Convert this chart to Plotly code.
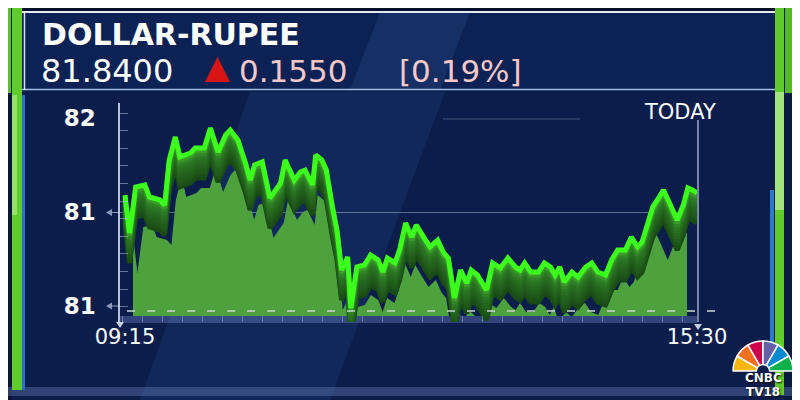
import pandas as pd
import plotly.graph_objects as go

# ---------------- data ----------------
DAY = "2022-10-07"
times = ["09:15","09:18","09:22","09:28","09:31","09:38","09:41","09:44","09:48","09:51",
         "09:58","10:01","10:07","10:11","10:16","10:21","10:24","10:29","10:34","10:37",
         "10:40","10:45","10:50","10:57","11:00","11:06","11:10","11:13","11:18","11:20",
         "11:24","11:27","11:31","11:34","11:37","11:41","11:43","11:47","11:52","11:56",
         "12:01","12:04","12:07","12:12","12:15","12:19","12:23","12:26","12:30","12:35",
         "12:40","12:44","12:47","12:51","12:55","12:59","13:02","13:06","13:12","13:16",
         "13:21","13:26","13:31","13:34","13:37","13:41","13:46","13:50","13:54","13:57",
         "14:00","14:03","14:08","14:12","14:17","14:21","14:25","14:30","14:34","14:38",
         "14:43","14:47","14:51","14:54","14:57","15:01","15:04","15:08","15:12","15:17",
         "15:21","15:24","15:27","15:30"]
values = [81.590,81.388,81.633,81.644,81.580,81.564,81.537,81.777,81.899,81.793,
          81.814,81.840,81.840,81.947,81.819,81.910,81.936,81.883,81.761,81.670,
          81.750,81.766,81.574,81.654,81.777,81.670,81.713,81.723,81.644,81.803,
          81.777,81.723,81.527,81.404,81.191,81.261,80.989,81.207,81.218,81.271,
          81.245,81.181,81.255,81.229,81.298,81.441,81.367,81.431,81.378,81.314,
          81.351,81.282,81.255,81.043,81.191,81.122,81.191,81.165,81.085,81.229,
          81.202,81.255,81.207,81.191,81.229,81.181,81.181,81.229,81.207,81.165,
          81.207,81.128,81.181,81.154,81.207,81.229,81.181,81.165,81.245,81.298,
          81.298,81.367,81.314,81.340,81.420,81.527,81.564,81.617,81.548,81.457,
          81.537,81.628,81.617,81.601]
y_tick_values = [81.0, 81.5, 82.0]
y_tick_labels = ["81", "81", "82"]
x_tick_labels = ["09:15", "15:30"]
title_text = "DOLLAR-RUPEE"
last_price = "81.8400"
change_text = "0.1550"
pct_text = "[0.19%]"
today_text = "TODAY"
logo_lines = ["CNBC", "TV18"]
peacock_colors = ["#fcb711", "#f37021", "#cc004c", "#6460aa", "#0089d0", "#0db14b"]

# ---------------- helpers (layout geometry) ----------------
W, H = 800, 400
OFF = 8  # page body margin compensation
def fx(p): return (p - OFF) / W
def fy(p): return 1 - (p - OFF) / H

V_TOP, V_BOT, P_TOP, P_BOT = 82.0, 81.0, 118, 306
vpp = (V_TOP - V_BOT) / (P_BOT - P_TOP)
def yrange(top_px, bot_px, shift=0):
    return [V_TOP - (bot_px - P_TOP - shift) * vpp, V_TOP - (top_px - P_TOP - shift) * vpp]

x = [f"{DAY} {t}" for t in times]
t0, t1 = pd.Timestamp(x[0]), pd.Timestamp(x[-1])
ms_per_px = (t1 - t0).total_seconds() * 1000 / (697 - 125)
def tstr(ts): return ts.strftime("%Y-%m-%d %H:%M:%S.%f")[:-3]
x_range = [x[0], x[-1]]
x_range_axis = [tstr(t0 - pd.Timedelta(milliseconds=5 * ms_per_px)), x[-1]]
minor_x0 = tstr(t0 + pd.Timedelta(milliseconds=17 * ms_per_px))

FONT = "DejaVu Sans"
fig = go.Figure()

# area fill (perspective-shifted copy of the series)
fig.add_trace(go.Scatter(
    x=x, y=values, xaxis="x", yaxis="y", mode="lines", line=dict(width=0, color="#3b8a30"),
    fill="tozeroy", fillgradient=dict(type="vertical",
                                      colorscale=[[0, "#2e7429"], [1, "#4ea23e"]]),
    hoverinfo="skip", showlegend=False))

# base subplot carrying the visible axes (transparent copy of the series)
fig.add_trace(go.Scatter(x=x, y=values, xaxis="x2", yaxis="y2", mode="lines",
                         line=dict(width=1, color="rgba(0,0,0,0)"), hoverinfo="skip", showlegend=False))

# 3D extrusion walls
shifts = [30, 27, 24, 21, 18, 15, 12, 9, 6, 3]
wall_colors = ["#194a15", "#1b4f17", "#1f5719", "#215c1b", "#23621d", "#25681f", "#286f21",
               "#2b7723", "#308326", "#3a9a2a"]
for i, (s, c) in enumerate(zip(shifts, wall_colors)):
    fig.add_trace(go.Scatter(x=x, y=values, xaxis="x2", yaxis=f"y{i + 3}", mode="lines",
                             line=dict(width=5, color=c), hoverinfo="skip", showlegend=False))

# bright top line
n_last = len(shifts) + 3
fig.add_trace(go.Scatter(x=x, y=values, xaxis="x2", yaxis=f"y{n_last}", mode="lines",
                         line=dict(width=5, color="#3cff1c"), hoverinfo="skip", showlegend=False))

# CNBC peacock
fig.add_trace(go.Pie(values=[1] * 6 + [6], marker=dict(colors=peacock_colors + ["rgba(0,0,0,0)"],
                     line=dict(color="white", width=[1.5] * 6 + [0])),
                     sort=False, direction="clockwise", rotation=-90, hole=0.22,
                     textinfo="none", hoverinfo="skip", showlegend=False,
                     domain=dict(x=[fx(733), fx(793)], y=[fy(401), fy(341)])))

layout_axes = dict(
    xaxis=dict(domain=[fx(133), fx(687)], range=x_range, type="date", anchor="y", visible=False),
    yaxis=dict(domain=[fy(316), fy(100)], range=yrange(100, 316, 40), anchor="x", visible=False),
    xaxis2=dict(domain=[fx(120), fx(697)], range=x_range_axis, type="date", anchor="y2",
                showgrid=False, zeroline=False, showline=False, ticks="",
                tickmode="array", tickvals=x_range, ticktext=x_tick_labels,
                tickfont=dict(family=FONT, size=21, color="white"),
                minor=dict(ticks="inside", ticklen=6, tickcolor="rgba(170,190,230,0.45)",
                           tick0=minor_x0, dtick=20 * ms_per_px, showgrid=False)),
    yaxis2=dict(domain=[fy(322), fy(103)], range=yrange(103, 322), anchor="x2",
                showgrid=False, zeroline=False, showline=True, linecolor="rgba(215,225,245,0.85)",
                linewidth=1.5, ticks="", tickmode="array", tickvals=y_tick_values,
                ticktext=y_tick_labels, ticklabelstandoff=18,
                tickfont=dict(family=FONT, size=23, color="white", weight="bold"),
                minor=dict(ticks="inside", ticklen=8, tickcolor="rgba(190,205,235,0.5)",
                           tick0=V_TOP - (113 - P_TOP) * vpp, dtick=17.6 * vpp, showgrid=False)),
)
for i, s in enumerate(shifts + [0]):
    layout_axes[f"yaxis{i + 3}"] = dict(domain=[fy(322), fy(103)], range=yrange(103, 322, s),
                                        overlaying="y2", anchor="x2", visible=False)

shapes = []
def rect(x0, y0, x1, y1, color, layer="below"):
    shapes.append(dict(type="rect", xref="paper", yref="paper", x0=fx(x0), x1=fx(x1),
                       y0=fy(y1), y1=fy(y0), fillcolor=color, line=dict(width=0), layer=layer))
def hline(x0, x1, y, color, width=1, dash="solid", layer="below"):
    shapes.append(dict(type="line", xref="paper", yref="paper", x0=fx(x0), x1=fx(x1),
                       y0=fy(y), y1=fy(y), line=dict(color=color, width=width, dash=dash), layer=layer))
def vline(xp, y0, y1, color, width=1, layer="below"):
    shapes.append(dict(type="line", xref="paper", yref="paper", x0=fx(xp), x1=fx(xp),
                       y0=fy(y0), y1=fy(y1), line=dict(color=color, width=width), layer=layer))
def poly(pts, color, layer="below"):
    path = "M " + " L ".join(f"{fx(a)},{fy(b)}" for a, b in pts) + " Z"
    shapes.append(dict(type="path", xref="paper", yref="paper", path=path, fillcolor=color,
                       line=dict(width=0), layer=layer))

# backgrounds
rect(0, 0, 810, 11, "#07112c")
rect(22, 0, 160, 3, "#1f6fd6")
rect(600, 0, 770, 2, "#12408a")
rect(22, 12, 775, 90, "#0c2255")
poly([(380, 12), (470, 12), (440, 90), (350, 90)], "rgba(70,110,180,0.18)")
poly([(250, 92), (445, 92), (330, 400), (140, 400)], "rgba(60,100,175,0.16)")
rect(0, 95, 12, 410, "#0a1634")
rect(784, 95, 810, 410, "#0a1a3e")
rect(0, 387, 810, 396, "rgba(90,115,170,0.45)")
# header borders
hline(22, 775, 12, "rgba(240,245,255,0.95)", 2)
hline(22, 775, 89.5, "rgba(190,215,255,0.85)", 1.5)
vline(24.5, 12, 90, "rgba(240,245,255,0.9)", 1.5)
# green side bars
rect(2, 5, 11, 93, "#5cc22a")
rect(12, 5, 22, 390, "#5fcb2c")
rect(12, 95, 17, 215, "#93e06a")
rect(22, 95, 25, 390, "#2a6fc8")
rect(785, 8, 795, 93, "#55b827")
rect(775, 5, 784, 395, "#5fcb2c")
rect(775, 92, 784, 210, "#a3e37c")
rect(770, 190, 774, 345, "#2a7ad0")
# chart decorations
rect(120, 316, 697, 323, "rgba(95,120,185,0.45)")
hline(120, 697, 212.5, "rgba(195,205,230,0.45)", 1)
hline(443, 580, 119, "rgba(195,205,230,0.3)", 1)
for yy in (212.5, 306):
    poly([(106, yy), (112, yy - 3.5), (112, yy + 3.5)], "rgba(170,185,215,0.8)")
    hline(112, 120, yy, "rgba(170,185,215,0.8)", 1)
hline(127, 715, 311, "rgba(200,215,205,0.75)", 2, dash="8px,12px", layer="above")
vline(698, 120, 322, "rgba(205,215,235,0.75)", 1.5, layer="above")
poly([(694, 324), (702, 324), (698, 330)], "rgba(215,225,245,0.9)", layer="above")
poly([(116, 322), (124, 322), (120, 328)], "rgba(215,225,245,0.9)", layer="above")
# red up-triangle
poly([(205, 82), (217.5, 57), (230, 82)], "#d81414", layer="above")

annotations = [
    dict(text=title_text, x=fx(40), y=fy(34.6), xanchor="left", yanchor="middle",
         font=dict(family=FONT, size=30, color="white", weight="bold")),
    dict(text=last_price, x=fx(39), y=fy(71), xanchor="left", yanchor="middle",
         font=dict(family=FONT, size=32, color="white")),
    dict(text=change_text, x=fx(237), y=fy(71), xanchor="left", yanchor="middle",
         font=dict(family=FONT, size=31, color="#f6c8c8")),
    dict(text=pct_text, x=fx(397), y=fy(71), xanchor="left", yanchor="middle",
         font=dict(family=FONT, size=31, color="#f6c8c8")),
    dict(text=today_text, x=fx(680), y=fy(112), xanchor="center", yanchor="middle",
         font=dict(family=FONT, size=21, color="white")),
    dict(text=logo_lines[0], x=fx(763), y=fy(378), xanchor="center", yanchor="middle",
         font=dict(family=FONT, size=12, color="white", weight="bold",
                   shadow="1px 1px 2px black"), borderpad=0),
    dict(text=logo_lines[1], x=fx(763), y=fy(391.5), xanchor="center", yanchor="middle",
         font=dict(family=FONT, size=12, color="white", weight="bold",
                   shadow="1px 1px 2px black"), borderpad=0),
]
for a in annotations:
    a.update(xref="paper", yref="paper", showarrow=False)

fig.update_layout(width=W, height=H, margin=dict(l=0, r=0, t=0, b=0, pad=0, autoexpand=False),
                  paper_bgcolor="#0b1d4b", plot_bgcolor="rgba(0,0,0,0)",
                  showlegend=False, hovermode=False, shapes=shapes, annotations=annotations,
                  **layout_axes)
fig.write_html("out.html")
